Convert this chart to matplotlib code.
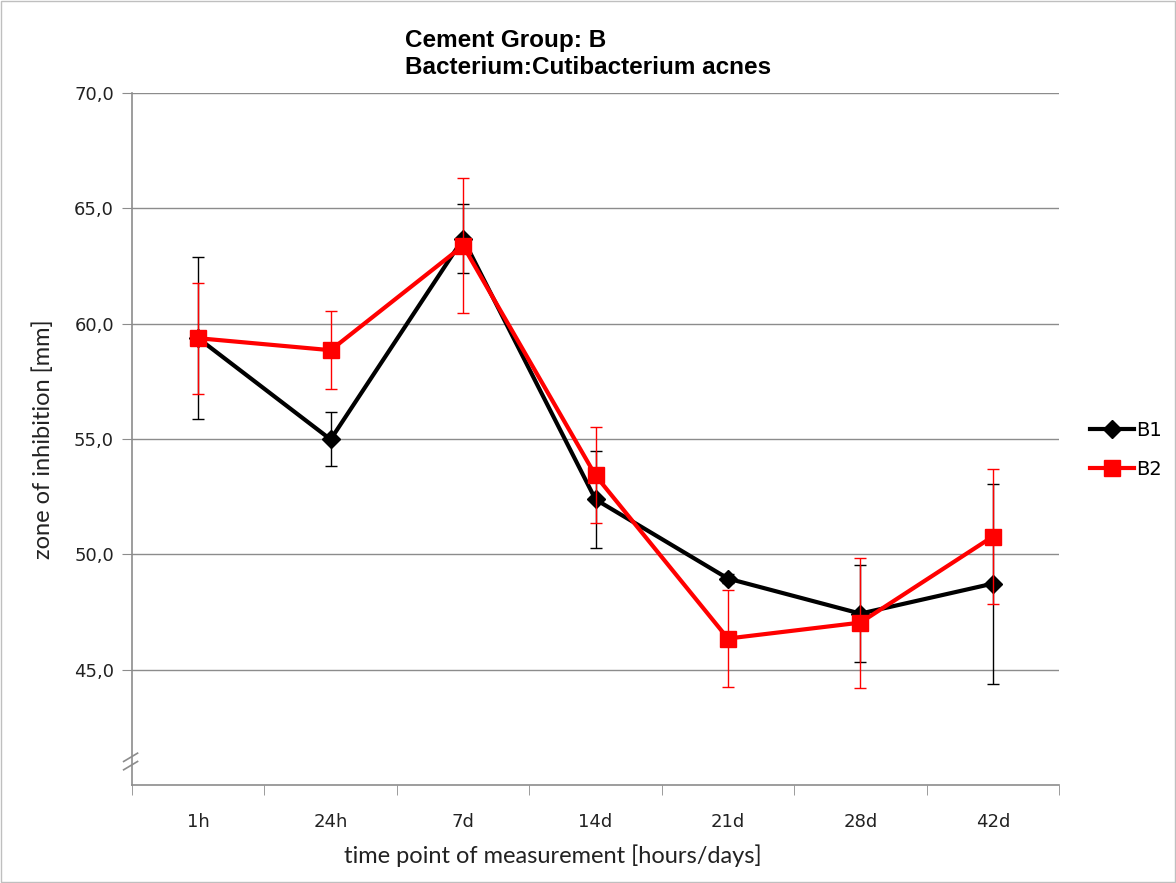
import matplotlib
matplotlib.use('Agg')
import matplotlib.pyplot as plt
import numpy as np

# --- data ---
zaman = ['1h', '24h', '7d', '14d', '21d', '28d', '42d']
b1 = [59.37, 54.98, 63.68, 52.38, 48.95, 47.43, 48.73]
b1_err = [3.5, 1.17, 1.5, 2.1, 0.2, 2.1, 4.34]
b2 = [59.37, 58.85, 63.38, 53.42, 46.35, 47.04, 50.77]
b2_err = [2.4, 1.7, 2.93, 2.08, 2.1, 2.82, 2.93]
y_ticks = [45, 50, 55, 60, 65, 70]
y_tick_labels = ['45,0', '50,0', '55,0', '60,0', '65,0', '70,0']

fig = plt.figure(figsize=(11.76, 8.83), dpi=100)
ax = fig.add_axes([132/1176, 1-785/883, (1059-132)/1176, (785-93)/883])

x = np.arange(len(zaman)) + 0.5
grid_c = '#8c8c8c'

eb1 = ax.errorbar(x, b1, yerr=b1_err, color='black', lw=3, marker='D', ms=9,
                  ecolor='black', elinewidth=1, capsize=4, capthick=1, label='B1', zorder=3)
eb2 = ax.errorbar(x, b2, yerr=b2_err, color='#ff0000', lw=3, marker='s', ms=11,
                  ecolor='#ff0000', elinewidth=1, capsize=4, capthick=1, label='B2', zorder=4)

ax.set_xlim(0, 7)
ax.set_ylim(40, 70)
ax.set_yticks(y_ticks)
ax.set_yticklabels(y_tick_labels)
ax.set_xticks(x)
ax.set_xticklabels(zaman)
ax.set_xticks(np.arange(0, 8), minor=True)
ax.tick_params(axis='x', which='major', length=0, pad=20, labelsize=13, labelcolor='#222222')
ax.tick_params(axis='x', which='minor', length=7, color=grid_c, direction='out')
ax.tick_params(axis='y', length=7, color=grid_c, direction='out', pad=6,
               labelsize=13, labelcolor='#222222')

ax.grid(True, axis='y', color=grid_c, lw=1)
ax.set_axisbelow(True)
for s in ['top', 'right']:
    ax.spines[s].set_visible(False)
for s in ['left', 'bottom']:
    ax.spines[s].set_color(grid_c)
    ax.spines[s].set_linewidth(1.2)

# eksen kırılma işareti
for dy in [0.0, 0.012]:
    ax.plot([-0.009, 0.006], [0.022 + dy, 0.034 + dy], transform=ax.transAxes,
            color=grid_c, lw=1.2, clip_on=False)

fig.text(553/1176, 1-856/883, 'time point of measurement [hours/days]', fontsize=17,
         family='Lato', color='#222222', ha='center', va='center')
ax.set_ylabel('zone of inhibition [mm]', fontsize=17, family='Lato',
              color='#222222', labelpad=14)

fig.text(405/1176, 1-41/883, 'Cement Group: B', fontsize=17.5, fontweight='bold',
         family='Liberation Sans', va='center', ha='left')
fig.text(405/1176, 1-68/883, 'Bacterium:Cutibacterium acnes', fontsize=17.5,
         fontweight='bold', family='Liberation Sans', va='center', ha='left')

fig.legend(handles=[eb1.lines[0], eb2.lines[0]], labels=['B1', 'B2'],
           loc='center left', bbox_to_anchor=(1072/1176, 1-450/883), frameon=False,
           fontsize=14, handlelength=2.3, handletextpad=0.1, labelspacing=1.0)

# dış çerçeve
fig.patches.append(plt.Rectangle((0.001, 0.001), 0.998, 0.998, transform=fig.transFigure,
                                 fill=False, edgecolor='#bfbfbf', lw=1))

fig.savefig('out.png', dpi=100)
